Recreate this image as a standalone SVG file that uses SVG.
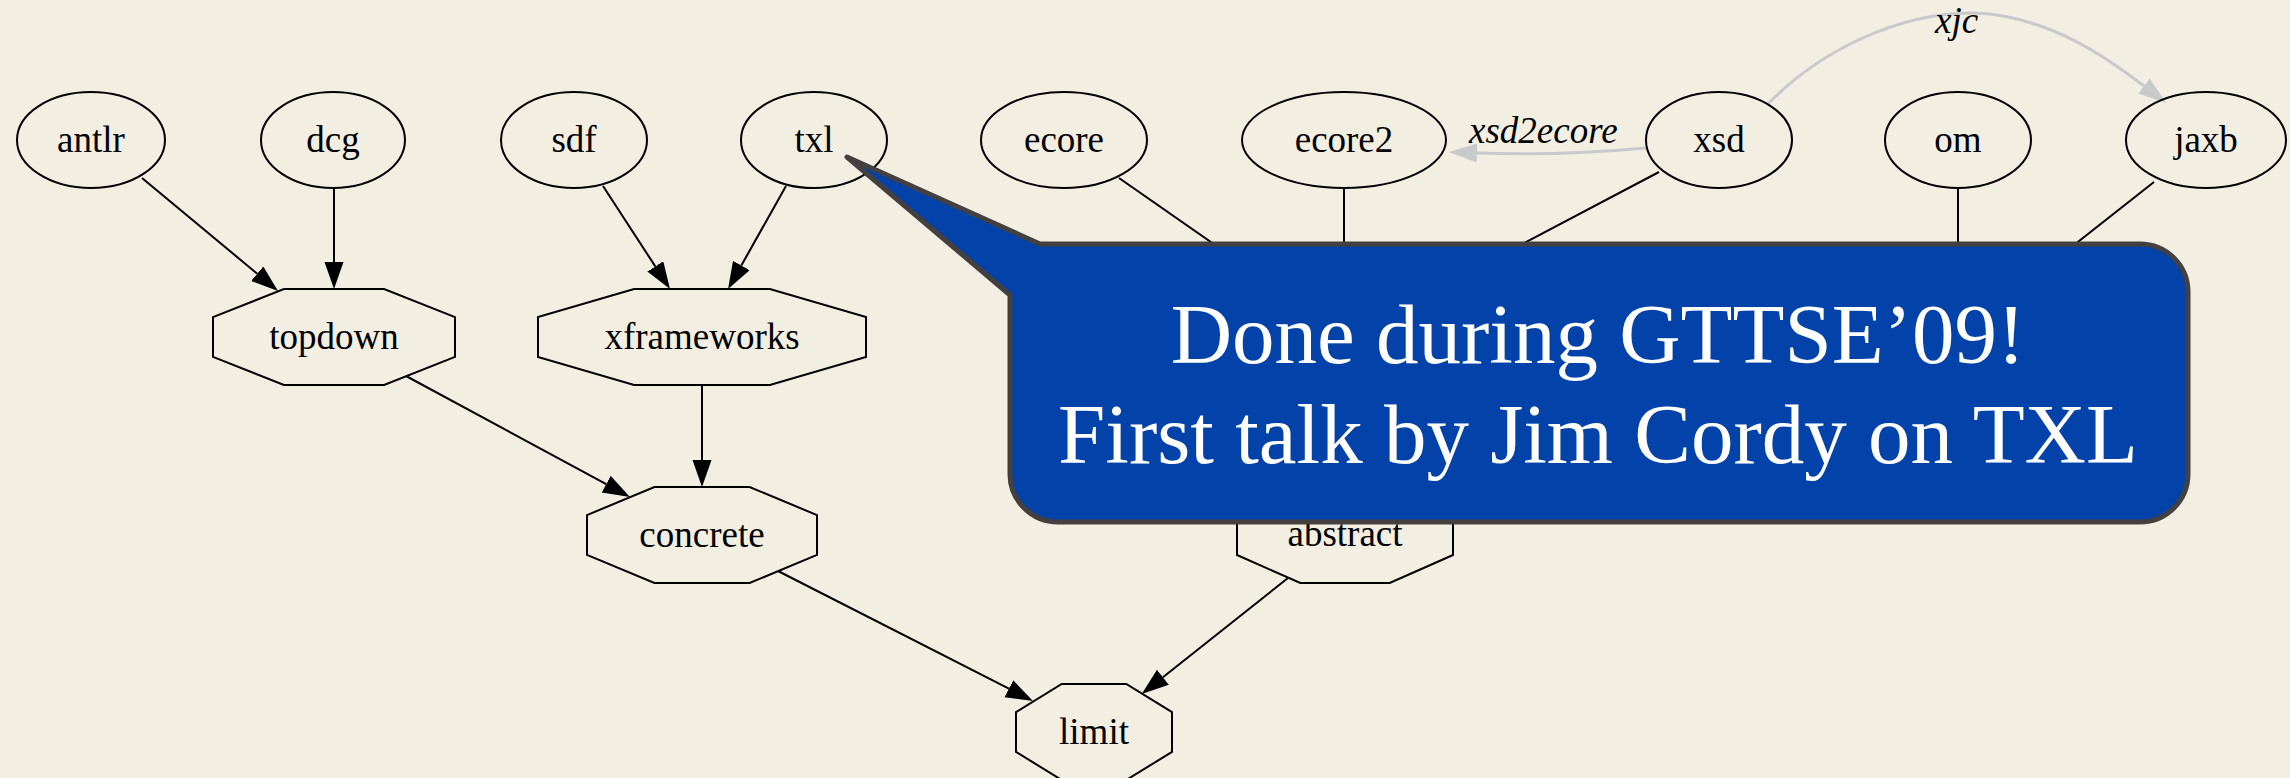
<svg xmlns="http://www.w3.org/2000/svg" width="2290" height="778" viewBox="0 0 2290 778">
<defs>
<marker id="ah" markerWidth="28" markerHeight="20" refX="0" refY="9.5" orient="auto" markerUnits="userSpaceOnUse"><path d="M0,0 L27,9.5 L0,19 Z" fill="#000"/></marker>
<marker id="ahg" markerWidth="30" markerHeight="20" refX="0" refY="9.5" orient="auto" markerUnits="userSpaceOnUse"><path d="M0,0 L28,9.5 L0,19 Z" fill="#c9c9cb"/></marker>
<style>
.n{fill:none;stroke:#000;stroke-width:2}
.t{font-family:"Liberation Serif","Times New Roman",serif;font-size:37px;fill:#000;text-anchor:middle}
.el{font-family:"Liberation Serif","Times New Roman",serif;font-size:37px;font-style:italic;fill:#000}
.e{fill:none;stroke:#000;stroke-width:2}
.ea{fill:none;stroke:#000;stroke-width:2;marker-end:url(#ah)}
.eg{fill:none;stroke:#c9c9cb;stroke-width:3;marker-end:url(#ahg)}
.callout{fill:#0343a9;stroke:#454040;stroke-width:5;stroke-linejoin:round}
.ct{font-family:"Liberation Serif","Times New Roman",serif;font-size:85px;fill:#fff;text-anchor:middle}
</style>
</defs>
<rect width="2290" height="778" fill="#f2eee1"/>
<g id="edges">
<path class="ea" d="M142,178 L257.2,273.7"/>
<path class="ea" d="M334,188 L334,262"/>
<path class="ea" d="M603,186 L655.3,266.4"/>
<path class="ea" d="M786,186 L741.3,265.5"/>
<path class="ea" d="M406,376 L606.2,484.2"/>
<path class="ea" d="M702,385 L702,460"/>
<path class="ea" d="M778,571 L1008.9,688.7"/>
<path class="ea" d="M1288,578 L1162.9,677.2"/>
<path class="e" d="M1119,178 L1251,270"/>
<path class="e" d="M1344,188 L1344,280"/>
<path class="e" d="M1659,172 L1490,261"/>
<path class="e" d="M1958,188 L1958,280"/>
<path class="e" d="M2154,182 L2055,260"/>
<path class="eg" d="M1646,148 Q1560,156 1477,153"/>
<text class="el" x="1469" y="143">xsd2ecore</text>
<path class="eg" d="M1767,105 C1820,50 1900,12 1975,13 C2050,16 2110,60 2144,86"/>
<text class="el" x="1935" y="33">xjc</text>
</g>
<g id="antlr"><ellipse class="n" cx="91" cy="140" rx="74" ry="48"/><text class="t" x="91" y="152">antlr</text></g>
<g id="dcg"><ellipse class="n" cx="333" cy="140" rx="72" ry="48"/><text class="t" x="333" y="152">dcg</text></g>
<g id="sdf"><ellipse class="n" cx="574" cy="140" rx="73" ry="48"/><text class="t" x="574" y="152">sdf</text></g>
<g id="txl"><ellipse class="n" cx="814" cy="140" rx="73" ry="48"/><text class="t" x="814" y="152">txl</text></g>
<g id="ecore"><ellipse class="n" cx="1064" cy="140" rx="83" ry="48"/><text class="t" x="1064" y="152">ecore</text></g>
<g id="ecore2"><ellipse class="n" cx="1344" cy="140" rx="102" ry="48"/><text class="t" x="1344" y="152">ecore2</text></g>
<g id="xsd"><ellipse class="n" cx="1719" cy="140" rx="73" ry="48"/><text class="t" x="1719" y="152">xsd</text></g>
<g id="om"><ellipse class="n" cx="1958" cy="140" rx="73" ry="48"/><text class="t" x="1958" y="152">om</text></g>
<g id="jaxb"><ellipse class="n" cx="2206" cy="140" rx="80" ry="48"/><text class="t" x="2206" y="152">jaxb</text></g>
<g id="topdown"><polygon class="n" points="283.9,289 384.1,289 455,317.1 455,356.9 384.1,385 283.9,385 213,356.9 213,317.1"/><text class="t" x="334" y="349">topdown</text></g>
<g id="xframeworks"><polygon class="n" points="634.1,289 769.9,289 866,317.1 866,356.9 769.9,385 634.1,385 538,356.9 538,317.1"/><text class="t" x="702" y="349">xframeworks</text></g>
<g id="concrete"><polygon class="n" points="654.4,487 749.6,487 817,515.1 817,554.9 749.6,583 654.4,583 587,554.9 587,515.1"/><text class="t" x="702" y="547">concrete</text></g>
<g id="abstract"><polygon class="n" points="1300.3,487 1389.7,487 1453,515 1453,555 1389.7,583 1300.3,583 1237,555 1237,515"/><text class="t" x="1345" y="546">abstract</text></g>
<g id="limit"><polygon class="n" points="1061.7,684 1126.3,684 1172,712.1 1172,751.9 1126.3,780 1061.7,780 1016,751.9 1016,712.1"/><text class="t" x="1094" y="744">limit</text></g>
<g id="callout">
<path class="callout" d="M1040,244 L2140,244 A48,48 0 0 1 2188,292 L2188,474 A48,48 0 0 1 2140,522 L1058,522 A48,48 0 0 1 1010,474 L1010,295 L847,157 Z"/>
<text class="ct" x="1598" y="363">Done during GTTSE’09!</text>
<text class="ct" x="1598" y="463">First talk by Jim Cordy on TXL</text>
</g>
</svg>
